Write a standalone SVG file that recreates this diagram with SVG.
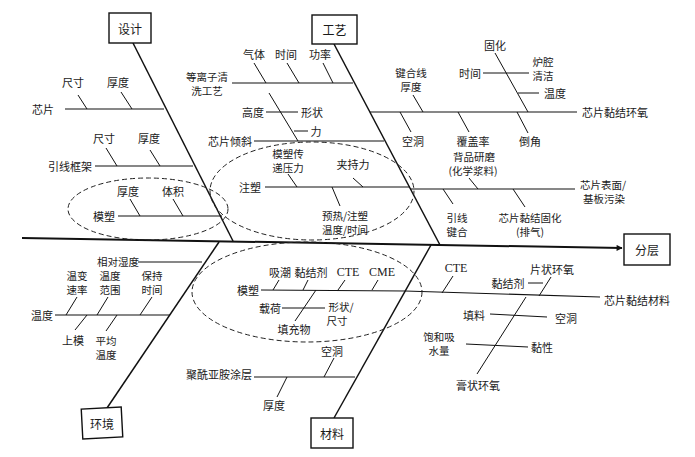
<svg xmlns="http://www.w3.org/2000/svg" width="695" height="457" viewBox="0 0 695 457">
<defs>
<marker id="arr" viewBox="0 0 10 10" refX="9" refY="5" markerWidth="8" markerHeight="6" orient="auto" markerUnits="userSpaceOnUse">
<path d="M0,0 L10,5 L0,10 z" fill="#111"/>
</marker>
<style>
text{font-family:"Noto Sans CJK SC","Liberation Serif",sans-serif;font-size:11px;fill:#1a1a1a;text-anchor:middle;dominant-baseline:central}
.sm{font-size:10.5px}
.lat{font-family:"Liberation Serif","Noto Sans CJK SC",serif;font-size:12px}
.box{fill:#fff;stroke:#111;stroke-width:1.4}
.bt{font-size:12px}
.spine{stroke:#111;stroke-width:2;fill:none}
.bone{stroke:#111;stroke-width:1.5;fill:none}
.sub{stroke:#111;stroke-width:1.2;fill:none}
.tk{stroke:#111;stroke-width:1;fill:none}
.ell{fill:none;stroke:#222;stroke-width:1;stroke-dasharray:5 3}
</style>
</defs>
<rect width="695" height="457" fill="#fff"/>

<g id="connectors">
<line class="spine" x1="22" y1="238" x2="622" y2="248" marker-end="url(#arr)"/>
<line class="bone" x1="133" y1="43" x2="233" y2="241"/>
<line class="bone" x1="334" y1="44" x2="440" y2="245"/>
<line class="bone" x1="107" y1="408" x2="219" y2="242"/>
<line class="bone" x1="334" y1="418" x2="431" y2="245"/>

<line class="sub" x1="65" y1="109" x2="164" y2="109"/>
<line class="tk" x1="78" y1="95" x2="87" y2="109"/>
<line class="tk" x1="121" y1="92" x2="132" y2="109"/>
<line class="sub" x1="95" y1="166" x2="193" y2="166"/>
<line class="tk" x1="106" y1="148" x2="117" y2="166"/>
<line class="tk" x1="150" y1="150" x2="160" y2="166"/>
<line class="sub" x1="118" y1="216" x2="222" y2="216"/>
<line class="tk" x1="130" y1="199" x2="140" y2="216"/>
<line class="tk" x1="173" y1="199" x2="183" y2="216"/>

<line class="sub" x1="232" y1="83" x2="353" y2="83"/>
<line class="tk" x1="254" y1="63" x2="266" y2="83"/>
<line class="tk" x1="287" y1="63" x2="299" y2="83"/>
<line class="tk" x1="323" y1="63" x2="333" y2="83"/>
<line class="sub" x1="254" y1="141" x2="384" y2="141"/>
<line class="tk" x1="269" y1="93" x2="298" y2="141"/>
<line class="tk" x1="266" y1="112" x2="298" y2="112"/>
<line class="tk" x1="294" y1="131" x2="308" y2="131"/>
<line class="sub" x1="265" y1="187" x2="410" y2="187"/>
<line class="tk" x1="288" y1="174" x2="297" y2="187"/>
<line class="tk" x1="353" y1="178" x2="363" y2="187"/>
<line class="tk" x1="332" y1="187" x2="340" y2="206"/>

<line class="sub" x1="370" y1="112" x2="577" y2="112"/>
<line class="tk" x1="413" y1="95" x2="423" y2="112"/>
<line class="tk" x1="400" y1="112" x2="411" y2="132"/>
<line class="tk" x1="458" y1="112" x2="469" y2="132"/>
<line class="tk" x1="495" y1="53" x2="528" y2="112"/>
<line class="tk" x1="517" y1="112" x2="528" y2="133"/>
<line class="tk" x1="483" y1="73" x2="529" y2="73"/>
<line class="tk" x1="518" y1="93" x2="539" y2="93"/>
<line class="sub" x1="410" y1="189" x2="575" y2="189"/>
<line class="tk" x1="469" y1="178" x2="478" y2="189"/>
<line class="tk" x1="443" y1="189" x2="453" y2="204"/>
<line class="tk" x1="513" y1="189" x2="525" y2="207"/>

<line class="sub" x1="138" y1="262" x2="202" y2="262"/>
<line class="sub" x1="55" y1="315" x2="170" y2="315"/>
<line class="tk" x1="77" y1="297" x2="66" y2="315"/>
<line class="tk" x1="108" y1="297" x2="97" y2="315"/>
<line class="tk" x1="152" y1="297" x2="140" y2="315"/>
<line class="tk" x1="87" y1="315" x2="75" y2="330"/>
<line class="tk" x1="117" y1="315" x2="106" y2="331"/>

<line class="sub" x1="261" y1="290" x2="405" y2="291"/>
<line class="tk" x1="279" y1="280" x2="273" y2="290"/>
<line class="tk" x1="308" y1="280" x2="303" y2="290"/>
<line class="tk" x1="345" y1="280" x2="338" y2="290"/>
<line class="tk" x1="378" y1="280" x2="372" y2="290"/>
<line class="tk" x1="316" y1="290" x2="295" y2="321"/>
<line class="tk" x1="282" y1="308" x2="325" y2="308"/>
<line class="sub" x1="254" y1="377" x2="355" y2="377"/>
<line class="tk" x1="334" y1="358" x2="324" y2="377"/>
<line class="tk" x1="287" y1="377" x2="277" y2="397"/>

<line class="sub" x1="405" y1="291" x2="600" y2="297"/>
<line class="tk" x1="453" y1="276" x2="442" y2="293"/>
<line class="tk" x1="551" y1="277" x2="539" y2="296"/>
<line class="tk" x1="528" y1="283" x2="543" y2="283"/>
<line class="tk" x1="526" y1="297" x2="477" y2="374"/>
<line class="tk" x1="490" y1="314" x2="547" y2="317"/>
<line class="tk" x1="466" y1="344" x2="528" y2="347"/>
</g>

<g id="groupings">
<ellipse class="ell" cx="148" cy="209" rx="80" ry="31"/>
<ellipse class="ell" cx="312" cy="191" rx="102" ry="49"/>
<ellipse class="ell" cx="307" cy="292" rx="115" ry="50"/>
</g>

<g id="node-design">
<rect class="box" x="109" y="13" width="42" height="30"/>
<text class="bt" x="130" y="28">设计</text>
</g>
<g id="node-process">
<rect class="box" x="312" y="15" width="45" height="29"/>
<text class="bt" x="334.5" y="29.5">工艺</text>
</g>
<g id="node-env">
<rect class="box" x="82" y="408" width="40" height="30" transform="rotate(-3 102 423)"/>
<text class="bt" x="102" y="423">环境</text>
</g>
<g id="node-material">
<rect class="box" x="311" y="418" width="42" height="30"/>
<text class="bt" x="332" y="433">材料</text>
</g>
<g id="node-delamination">
<rect class="box" x="624" y="234" width="46" height="31"/>
<text class="bt" x="647" y="249.5">分层</text>
</g>

<g id="labels-design">
<text x="43" y="109">芯片</text>
<text x="73" y="82">尺寸</text>
<text x="118" y="82">厚度</text>
<text x="70" y="166">引线框架</text>
<text x="104" y="138">尺寸</text>
<text x="149" y="138">厚度</text>
<text x="104" y="216">模塑</text>
<text x="128" y="191">厚度</text>
<text x="173" y="191">体积</text>
</g>

<g id="labels-process" class="two">
<text class="sm" x="207" y="76"><tspan x="207" y="76">等离子清</tspan><tspan x="207" y="90">洗工艺</tspan></text>
<text x="254" y="54">气体</text>
<text x="286" y="54">时间</text>
<text x="320" y="54">功率</text>
<text x="230" y="141">芯片倾斜</text>
<text x="253" y="112">高度</text>
<text x="312" y="112">形状</text>
<text x="316" y="131">力</text>
<text x="250" y="187">注塑</text>
<text class="sm" x="288" y="153"><tspan x="288" y="153">模塑传</tspan><tspan x="288" y="167">递压力</tspan></text>
<text x="353" y="164">夹持力</text>
<text class="sm" x="345" y="215"><tspan x="345" y="215">预热/注塑</tspan><tspan x="345" y="229">温度/时间</tspan></text>
<text class="sm" x="411" y="72"><tspan x="411" y="72">键合线</tspan><tspan x="411" y="86">厚度</tspan></text>
<text x="413" y="141">空洞</text>
<text x="473" y="141">覆盖率</text>
<text x="530" y="141">倒角</text>
<text x="495" y="45">固化</text>
<text x="470" y="73">时间</text>
<text class="sm" x="543" y="61"><tspan x="543" y="61">炉腔</tspan><tspan x="543" y="75">清洁</tspan></text>
<text x="555" y="93">温度</text>
<text x="615" y="112">芯片黏结环氧</text>
<text class="sm" x="474" y="156"><tspan x="474" y="156">背品研磨</tspan><tspan x="473" y="170">(化学浆料)</tspan></text>
<text class="sm" x="603" y="184"><tspan x="603" y="184">芯片表面/</tspan><tspan x="604" y="198">基板污染</tspan></text>
<text class="sm" x="457" y="217"><tspan x="457" y="217">引线</tspan><tspan x="457" y="231">键合</tspan></text>
<text class="sm" x="530" y="217"><tspan x="530" y="217">芯片黏结固化</tspan><tspan x="530" y="231">(排气)</tspan></text>
</g>

<g id="labels-env">
<text class="sm" x="118" y="261">相对湿度</text>
<text x="42" y="315">温度</text>
<text class="sm" x="77" y="275"><tspan x="77" y="275">温变</tspan><tspan x="77" y="289">速率</tspan></text>
<text class="sm" x="110" y="275"><tspan x="110" y="275">温度</tspan><tspan x="110" y="289">范围</tspan></text>
<text class="sm" x="152" y="275"><tspan x="152" y="275">保持</tspan><tspan x="152" y="289">时间</tspan></text>
<text x="73" y="340">上模</text>
<text class="sm" x="106" y="340"><tspan x="106" y="340">平均</tspan><tspan x="106" y="354">温度</tspan></text>
</g>

<g id="labels-material">
<text x="248" y="290">模塑</text>
<text x="280" y="272">吸潮</text>
<text x="311" y="272">黏结剂</text>
<text class="lat" x="348" y="272">CTE</text>
<text class="lat" x="382" y="272">CME</text>
<text x="270" y="308">载荷</text>
<text class="sm" x="341" y="306"><tspan x="341" y="306">形状/</tspan><tspan x="337" y="320">尺寸</tspan></text>
<text x="294" y="329">填充物</text>
<text x="219" y="374">聚酰亚胺涂层</text>
<text x="332" y="351">空洞</text>
<text x="274" y="405">厚度</text>
<text class="lat" x="456" y="268">CTE</text>
<text x="552" y="269">片状环氧</text>
<text x="508" y="283">黏结剂</text>
<text x="474" y="315">填料</text>
<text x="566" y="318">空洞</text>
<text class="sm" x="439" y="336"><tspan x="439" y="336">饱和吸</tspan><tspan x="439" y="350">水量</tspan></text>
<text x="542" y="347">黏性</text>
<text x="478" y="385">膏状环氧</text>
<text x="637" y="300">芯片黏结材料</text>
</g>
</svg>
